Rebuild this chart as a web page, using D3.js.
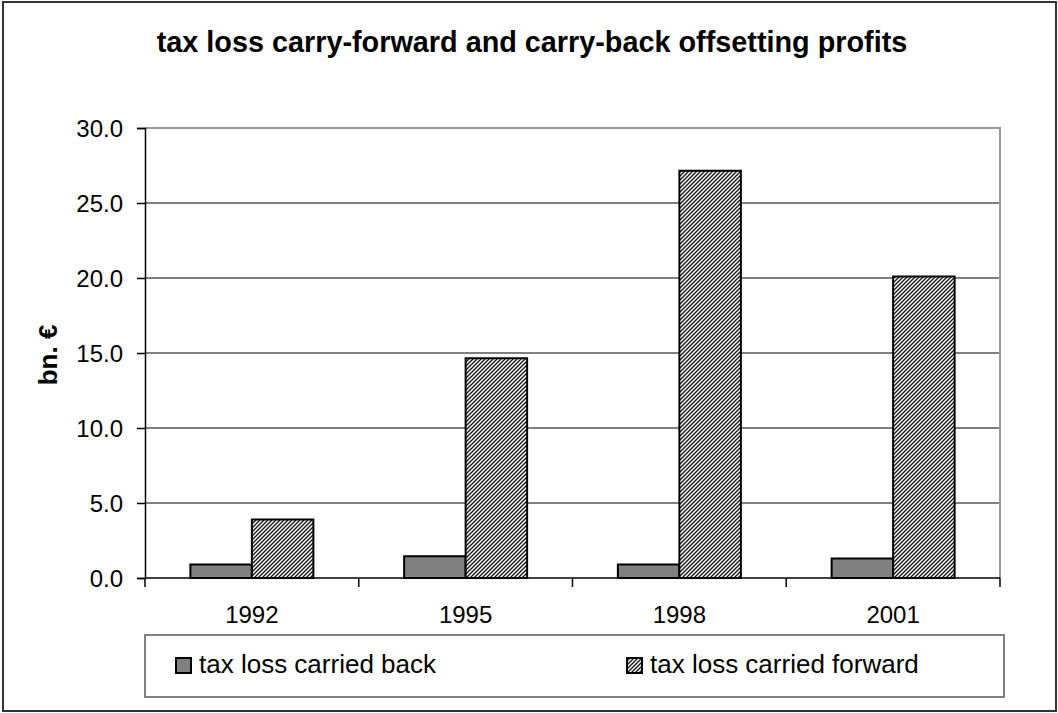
<!DOCTYPE html>
<html><head><meta charset="utf-8">
<script src="https://cdn.jsdelivr.net/npm/d3@7"></script>
<style>
html,body{margin:0;padding:0;background:#fff;}
svg{display:block;font-family:Arial,"Liberation Sans",sans-serif;}
</style></head>
<body>
<svg id="chart" width="1058" height="713"></svg>
<script>
const categories = ["1992", "1995", "1998", "2001"];
const seriesNames = ["tax loss carried back", "tax loss carried forward"];
const carriedBack = [0.9, 1.45, 0.9, 1.3];
const carriedForward = [3.9, 14.65, 27.15, 20.1];
const yTicks = [0, 5, 10, 15, 20, 25, 30];
const title = "tax loss carry-forward and carry-back offsetting profits";
const yTitle = "bn. €";

const svg = d3.select("#chart");
const defs = svg.append("defs");
const pat = defs.append("pattern").attr("id", "hatch").attr("patternUnits", "userSpaceOnUse")
  .attr("width", 4).attr("height", 4);
pat.append("rect").attr("width", 4).attr("height", 4).attr("fill", "#fff");
pat.append("path").attr("d", "M-1,1 l2,-2 M0,4 l4,-4 M3,5 l2,-2")
  .attr("stroke", "#1a1a1a").attr("stroke-width", 1.4);

// outer frame
svg.append("rect").attr("x", 3).attr("y", 2).attr("width", 1053).attr("height", 709)
  .attr("fill", "#fff").attr("stroke", "#333").attr("stroke-width", 2);

const L = 145, R = 1000, T = 128, B = 578;
const x0 = d3.scaleBand().domain(categories).range([L, R]).paddingInner(0).paddingOuter(0);
const x1 = d3.scaleBand().domain(seriesNames).range([0, x0.bandwidth()]).paddingInner(0).paddingOuter(0.738);
const y = d3.scaleLinear().domain([0, 30]).range([B, T]);

// title
svg.append("text").attr("x", 532).attr("y", 52).attr("text-anchor", "middle")
  .attr("font-size", 28.8).attr("font-weight", "bold").text(title);

// gridlines
svg.append("g").selectAll("line").data(yTicks.filter(d => d > 0 && d < 30)).join("line")
  .attr("x1", L).attr("x2", R).attr("y1", d => y(d)).attr("y2", d => y(d))
  .attr("stroke", "#000").attr("stroke-width", 1);

// plot border top/right gray
svg.append("path").attr("d", `M${L},${T}H${R}V${B}`).attr("fill", "none")
  .attr("stroke", "#999").attr("stroke-width", 2);

// bars
const data = categories.map((c, i) => ({ c, vals: [carriedBack[i], carriedForward[i]] }));
const g = svg.append("g");
data.forEach(d => {
  d.vals.forEach((v, j) => {
    g.append("rect")
      .attr("x", x0(d.c) + x1(seriesNames[j]))
      .attr("y", y(v))
      .attr("width", x1.bandwidth())
      .attr("height", y(0) - y(v))
      .attr("fill", j === 0 ? "#808080" : "url(#hatch)")
      .attr("stroke", "#000").attr("stroke-width", 2);
  });
});

// y axis
const yAxis = d3.axisLeft(y).tickValues(yTicks).tickFormat(d3.format(".1f")).tickSize(8).tickPadding(14);
const ya = svg.append("g").attr("transform", `translate(${L},0)`).call(yAxis);
ya.select(".domain").attr("stroke", "#000").attr("stroke-width", 1.5);
ya.selectAll(".tick line").attr("stroke", "#000").attr("stroke-width", 1.5);
ya.selectAll(".tick text").attr("font-size", 24).attr("fill", "#000").attr("font-family", "Arial, 'Liberation Sans', sans-serif").attr("dy", "0.35em");

// x axis
const xa = svg.append("g").attr("transform", `translate(0,${B})`);
xa.append("line").attr("x1", L).attr("x2", R).attr("y1", 0).attr("y2", 0).attr("stroke", "#000").attr("stroke-width", 1.5);
const bounds = categories.map(c => x0(c)).concat([R]);
xa.selectAll("line.tk").data(bounds).join("line").attr("class", "tk")
  .attr("x1", d => d).attr("x2", d => d).attr("y1", 0).attr("y2", 9)
  .attr("stroke", "#000").attr("stroke-width", 1.5);
xa.selectAll("text").data(categories).join("text")
  .attr("x", d => x0(d) + x0.bandwidth() / 2).attr("y", 45)
  .attr("text-anchor", "middle").attr("font-size", 24).text(d => d);

// y title
svg.append("text").attr("transform", "translate(57,355) rotate(-90)")
  .attr("text-anchor", "middle").attr("font-size", 26).attr("font-weight", "bold").text(yTitle);

// legend
svg.append("rect").attr("x", 145).attr("y", 635).attr("width", 859).attr("height", 62)
  .attr("fill", "#fff").attr("stroke", "#808080").attr("stroke-width", 2);
const legendX = [176, 627];
seriesNames.forEach((s, j) => {
  svg.append("rect").attr("x", legendX[j]).attr("y", 658).attr("width", 15).attr("height", 15)
    .attr("fill", j === 0 ? "#808080" : "url(#hatch)").attr("stroke", "#000").attr("stroke-width", 2);
  svg.append("text").attr("x", legendX[j] + 23).attr("y", 673).attr("font-size", 26).text(s);
});
</script>
</body></html>
